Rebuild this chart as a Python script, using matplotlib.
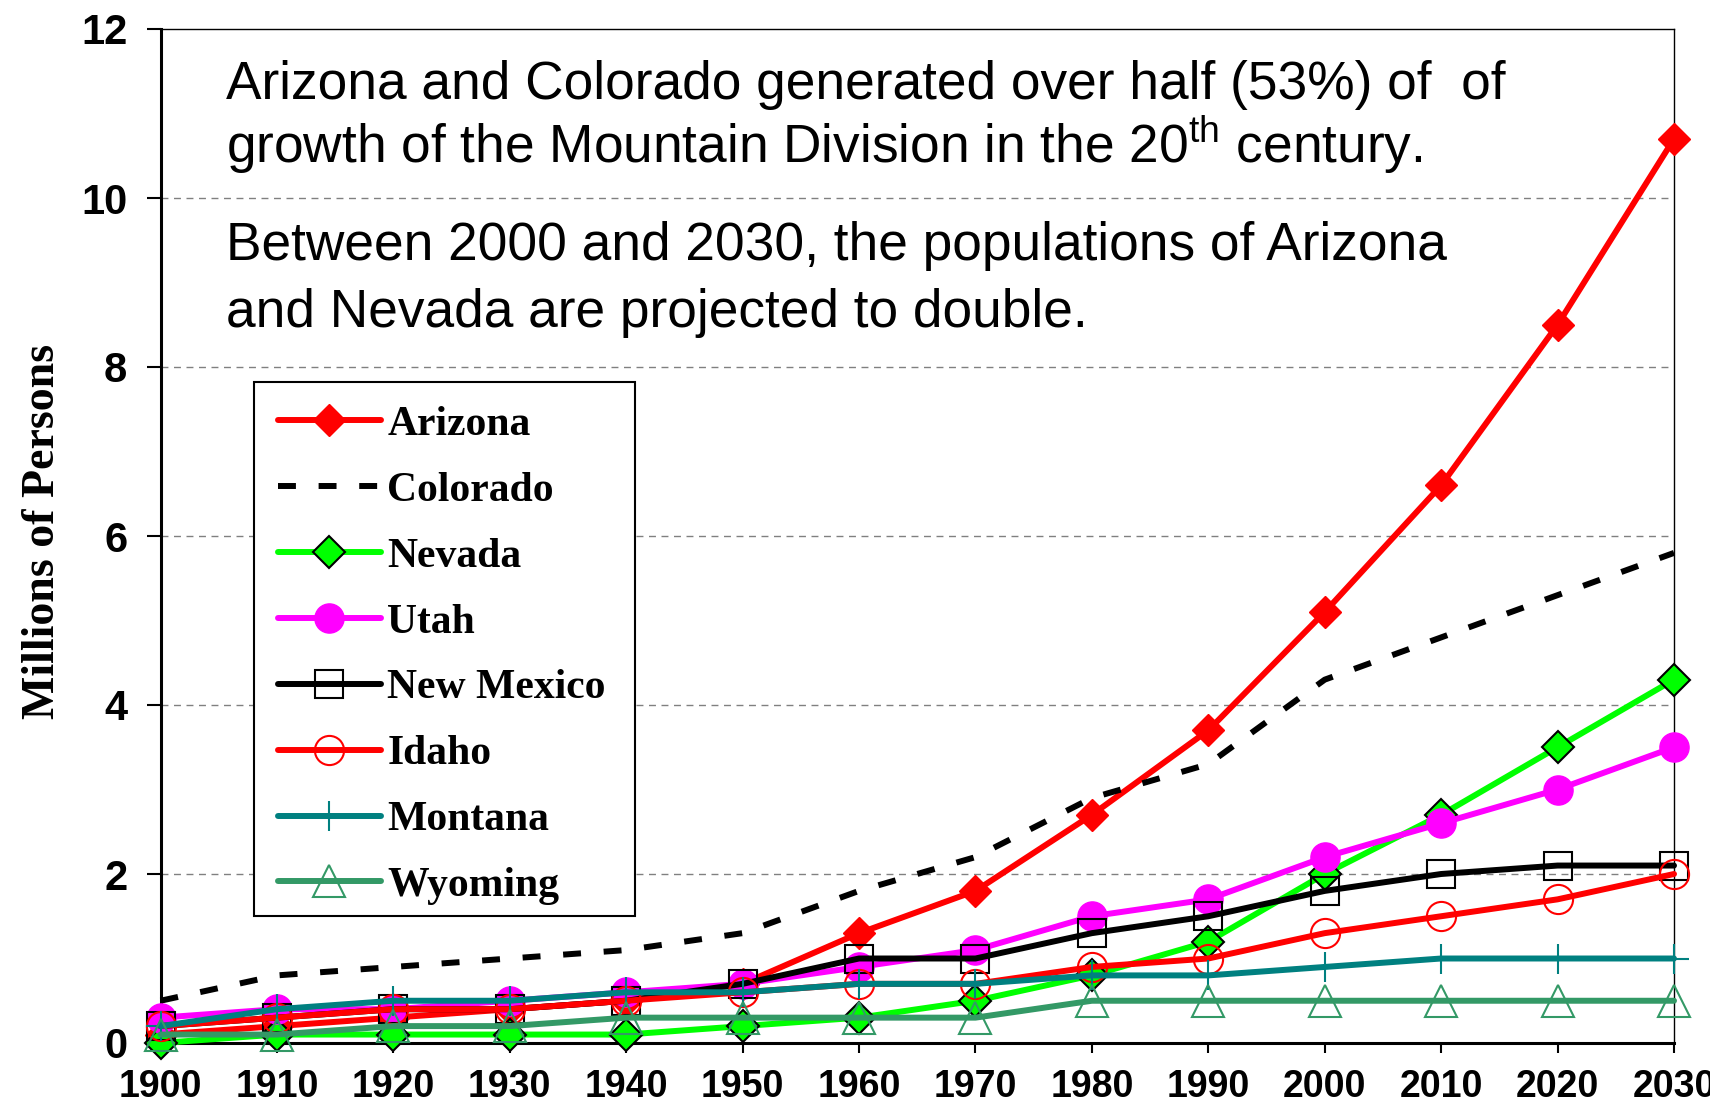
import matplotlib
matplotlib.use("Agg")
import matplotlib.pyplot as plt
from matplotlib.lines import Line2D
from matplotlib.patches import Rectangle

# ---------------- data (millions of persons) ----------------
years = [1900, 1910, 1920, 1930, 1940, 1950, 1960, 1970, 1980, 1990, 2000, 2010, 2020, 2030]
arizona    = [0.1, 0.2, 0.3, 0.4, 0.5, 0.7, 1.3, 1.8, 2.7, 3.7, 5.1, 6.6, 8.5, 10.7]
colorado   = [0.5, 0.8, 0.9, 1.0, 1.1, 1.3, 1.8, 2.2, 2.9, 3.3, 4.3, 4.8, 5.3, 5.8]
nevada     = [0.0, 0.1, 0.1, 0.1, 0.1, 0.2, 0.3, 0.5, 0.8, 1.2, 2.0, 2.7, 3.5, 4.3]
utah       = [0.3, 0.4, 0.4, 0.5, 0.6, 0.7, 0.9, 1.1, 1.5, 1.7, 2.2, 2.6, 3.0, 3.5]
new_mexico = [0.2, 0.3, 0.4, 0.4, 0.5, 0.7, 1.0, 1.0, 1.3, 1.5, 1.8, 2.0, 2.1, 2.1]
idaho      = [0.2, 0.3, 0.4, 0.4, 0.5, 0.6, 0.7, 0.7, 0.9, 1.0, 1.3, 1.5, 1.7, 2.0]
montana    = [0.2, 0.4, 0.5, 0.5, 0.6, 0.6, 0.7, 0.7, 0.8, 0.8, 0.9, 1.0, 1.0, 1.0]
wyoming    = [0.1, 0.1, 0.2, 0.2, 0.3, 0.3, 0.3, 0.3, 0.5, 0.5, 0.5, 0.5, 0.5, 0.5]
names = ["Arizona", "Colorado", "Nevada", "Utah", "New Mexico", "Idaho", "Montana", "Wyoming"]
yticks = [0, 2, 4, 6, 8, 10, 12]
ylabel = "Millions of Persons"
text_lines = [
    "Arizona and Colorado generated over half (53%) of  of",
    r"growth of the Mountain Division in the 20$^{\mathrm{th}}$ century.",
    "Between 2000 and 2030, the populations of Arizona",
    "and Nevada are projected to double.",
]

plt.rcParams["mathtext.fontset"] = "custom"
plt.rcParams["mathtext.rm"] = "Liberation Sans"

W, H = 1710, 1099
fig = plt.figure(figsize=(W / 100, H / 100), dpi=100)
L, R, T, B = 160.5, 1674, 29, 1043
ax = fig.add_axes([L / W, 1 - B / H, (R - L) / W, (B - T) / H])

lw = 4.3
styles = [
    dict(color="#FF0000", marker="D", ms=16, mfc="#FF0000", mec="#FF0000", mew=1, ls="-"),
    dict(color="black", marker=None, ls=(0, (3, 3.8)), dash_capstyle="butt"),
    dict(color="#00FF00", marker="D", ms=16, mfc="#00FF00", mec="black", mew=1.5, ls="-"),
    dict(color="#FF00FF", marker="o", ms=21, mfc="#FF00FF", mec="#FF00FF", mew=1, ls="-"),
    dict(color="black", marker="s", ms=20, mfc="none", mec="black", mew=1.5, ls="-"),
    dict(color="#FF0000", marker="o", ms=21, mfc="none", mec="#FF0000", mew=1.5, ls="-"),
    dict(color="#008080", marker="+", ms=22, mfc="none", mec="#008080", mew=1.5, ls="-"),
    dict(color="#339966", marker="^", ms=23, mfc="none", mec="#339966", mew=1.5, ls="-"),
]
series = [arizona, colorado, nevada, utah, new_mexico, idaho, montana, wyoming]

handles = []
for i, (name, vals, st) in enumerate(zip(names, series, styles)):
    ax.plot(years, vals, lw=lw, clip_on=False, zorder=3 + i, solid_capstyle="round", **st)
    handles.append(Line2D([], [], lw=lw, solid_capstyle="round", **st))

ax.set_xlim(1900, 2030)
ax.set_ylim(0, 12)
ax.set_xticks(years)
ax.set_xticklabels([str(y) for y in years])
ax.set_yticks(yticks)
ax.set_yticklabels([str(v) for v in yticks])

for yv in yticks[1:-1]:
    ax.axhline(yv, color="#808080", lw=1.0, ls=(0, (5, 4)), zorder=1)

for s in ["left", "bottom"]:
    ax.spines[s].set_linewidth(2.2)
for s in ["top", "right"]:
    ax.spines[s].set_linewidth(1.0)

ax.tick_params(axis="y", direction="out", length=10, width=1.5, pad=14)
ax.tick_params(axis="x", direction="out", length=7, width=1.5, pad=12)
for lab in ax.get_yticklabels():
    lab.set_fontfamily(["Liberation Sans", "DejaVu Sans"])
    lab.set_fontweight("bold")
    lab.set_fontsize(30)
for lab in ax.get_xticklabels():
    lab.set_fontfamily(["Liberation Sans Narrow", "Liberation Sans", "DejaVu Sans"])
    lab.set_fontweight("bold")
    lab.set_fontsize(27)

fig.text(43 / W, 1 - 531 / H, ylabel, rotation=90, ha="center", va="center",
         fontsize=33, fontweight="bold", family=["Liberation Serif", "DejaVu Serif"])

baselines = [99, 163, 260, 327]
for txt, yb in zip(text_lines, baselines):
    fig.text(226 / W, 1 - yb / H, txt, ha="left", va="baseline", fontsize=38.3,
             family=["Liberation Sans", "DejaVu Sans"])

# legend box (frame drawn separately to match the reference's padding)
bx0, by0, bx1, by1 = 254, 382, 635, 916
frame = Rectangle((bx0 / W, 1 - by1 / H), (bx1 - bx0) / W, (by1 - by0) / H,
                  transform=fig.transFigure, facecolor="white", edgecolor="black",
                  linewidth=1.5, clip_on=False, zorder=19)
ax.add_patch(frame)

ax_w = R - L
ax_h = B - T
x0 = (bx0 - L) / ax_w
x1 = (bx1 - L) / ax_w
ytop = (B - by0) / ax_h
leg = ax.legend(handles, names, loc="upper left", bbox_to_anchor=(x0, 0, x1 - x0, ytop),
                mode="expand", borderaxespad=0, frameon=False,
                handlelength=2.48, handletextpad=0.15,
                labelspacing=0.665, borderpad=0.57,
                prop=dict(family=["Liberation Serif", "DejaVu Serif"], weight="bold", size=30))
leg.set_zorder(20)

fig.savefig("out.png", dpi=100)
